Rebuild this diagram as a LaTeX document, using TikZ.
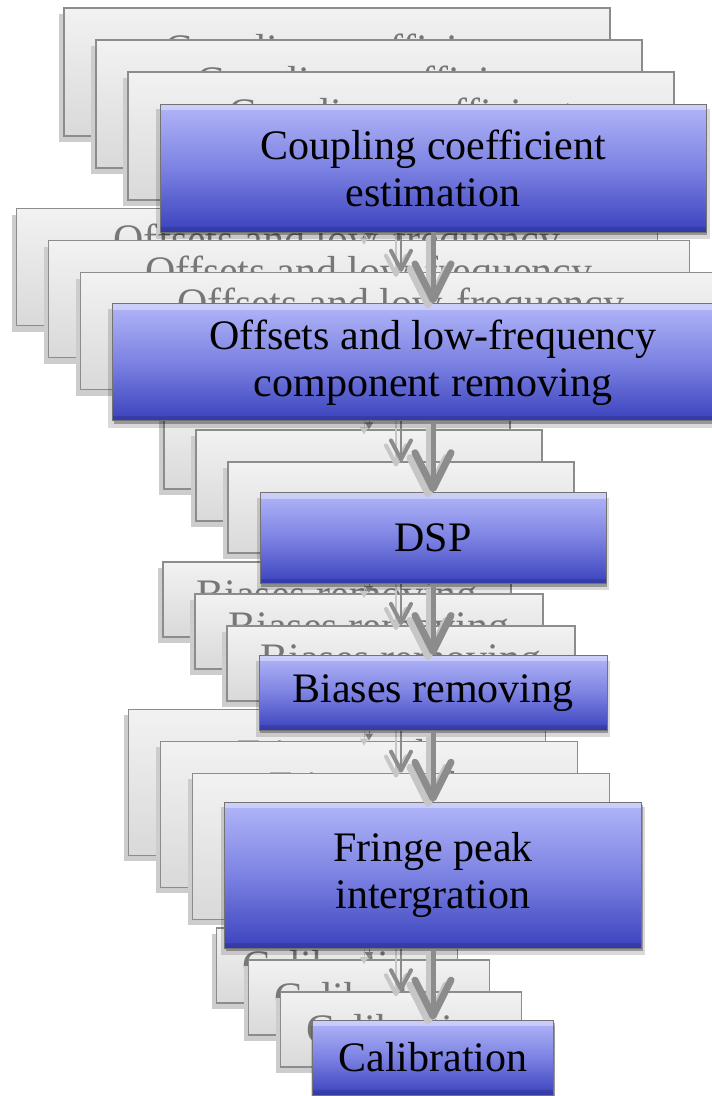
\documentclass[tikz,border=0pt]{standalone}
\usepackage{fontspec}
\setmainfont{Liberation Serif}
\usepackage{tikz}
\usetikzlibrary{positioning,shadows,arrows.meta}

\definecolor{bluetop}{HTML}{B2B6F8}
\definecolor{bluemid}{HTML}{7C82E2}
\definecolor{bluebot}{HTML}{3A42BD}
\definecolor{ghosttop}{HTML}{F2F2F2}
\definecolor{ghostbot}{HTML}{D9D9D9}
\definecolor{ghostline}{HTML}{8C8C8C}
\definecolor{ghosttext}{HTML}{777777}
\definecolor{ghostshadow}{HTML}{CDCDCD}
\definecolor{arrowgrey}{HTML}{8C8C8C}
\definecolor{arrowshade}{HTML}{C6C6C6}

\begin{document}
\begin{tikzpicture}[x=1pt, y=1pt, node distance=71pt,
    font=\fontsize{42}{47}\selectfont,
    stage/.style={rectangle, align=center, inner sep=0pt},
    ghost box/.style={stage, draw=ghostline, line width=1.6pt,
        top color=ghosttop, bottom color=ghostbot, text=ghosttext,
        drop shadow={shadow xshift=-5pt, shadow yshift=-6pt, fill=ghostshadow, opacity=1}},
    main box/.style={stage, draw=black!55, line width=.8pt,
        top color=bluetop, bottom color=bluebot, middle color=bluemid, text=black,
        drop shadow={shadow scale=1.015, shadow xshift=0pt, shadow yshift=-6pt, fill=black, opacity=.15},
        drop shadow={shadow xshift=1pt, shadow yshift=-3pt, fill=black, opacity=.3},
        path picture={
            \fill[white, opacity=.35] (path picture bounding box.north west) rectangle ([yshift=-6pt]path picture bounding box.north east);
            \fill[black, opacity=.12] (path picture bounding box.south west) rectangle ([yshift=5pt]path picture bounding box.south east);}},
    main arrow/.style={draw=arrowgrey, line width=5pt,
        -{Straight Barb[length=36pt, width=36pt, line width=7pt, round]}},
    near arrow/.style={draw=arrowgrey, line width=1.5pt,
        -{Straight Barb[length=19pt, width=20pt, line width=4pt, round]}},
    far arrow/.style={draw=arrowgrey, line width=1pt, -{Triangle[length=7pt, width=8pt]}},
    shade arrow/.style={draw=arrowshade, transform canvas={xshift=-5pt, yshift=-5pt}}]

    \useasboundingbox (0,0) rectangle (712,-1096);

    % three grey copies behind, then the blue layer on top
    \foreach \k/\bx/\ar in {3/ghost box/far arrow, 2/ghost box/far arrow, 1/ghost box/near arrow, 0/main box/main arrow} {
    \begin{scope}[shift={({-32*\k},{32*\k})}]
        \node[\bx, minimum width=546pt, minimum height=128pt] (coup\k) at (433,-168) {Coupling coefficient\\estimation};
        \node[\bx, minimum width=641pt, minimum height=117pt, below=of coup\k] (offs\k) {Offsets and low-frequency\\component removing};
        \node[\bx, minimum width=346pt, minimum height=91pt, below=of offs\k] (dsp\k) {DSP};
        \node[\bx, minimum width=348pt, minimum height=75pt, below=of dsp\k] (bias\k) {Biases removing};
        \node[\bx, minimum width=417pt, minimum height=146pt, below=of bias\k] (frin\k) {Fringe peak\\intergration};
        \node[\bx, minimum width=241pt, minimum height=75pt, below=of frin\k] (cali\k) {Calibration};

        \foreach \a/\b in {coup/offs, offs/dsp, dsp/bias, bias/frin, frin/cali} {
            \draw[\ar, shade arrow] (\a\k) -- (\b\k);
            \draw[\ar] (\a\k) -- (\b\k);
        }
    \end{scope}
    }
\end{tikzpicture}
\end{document}
